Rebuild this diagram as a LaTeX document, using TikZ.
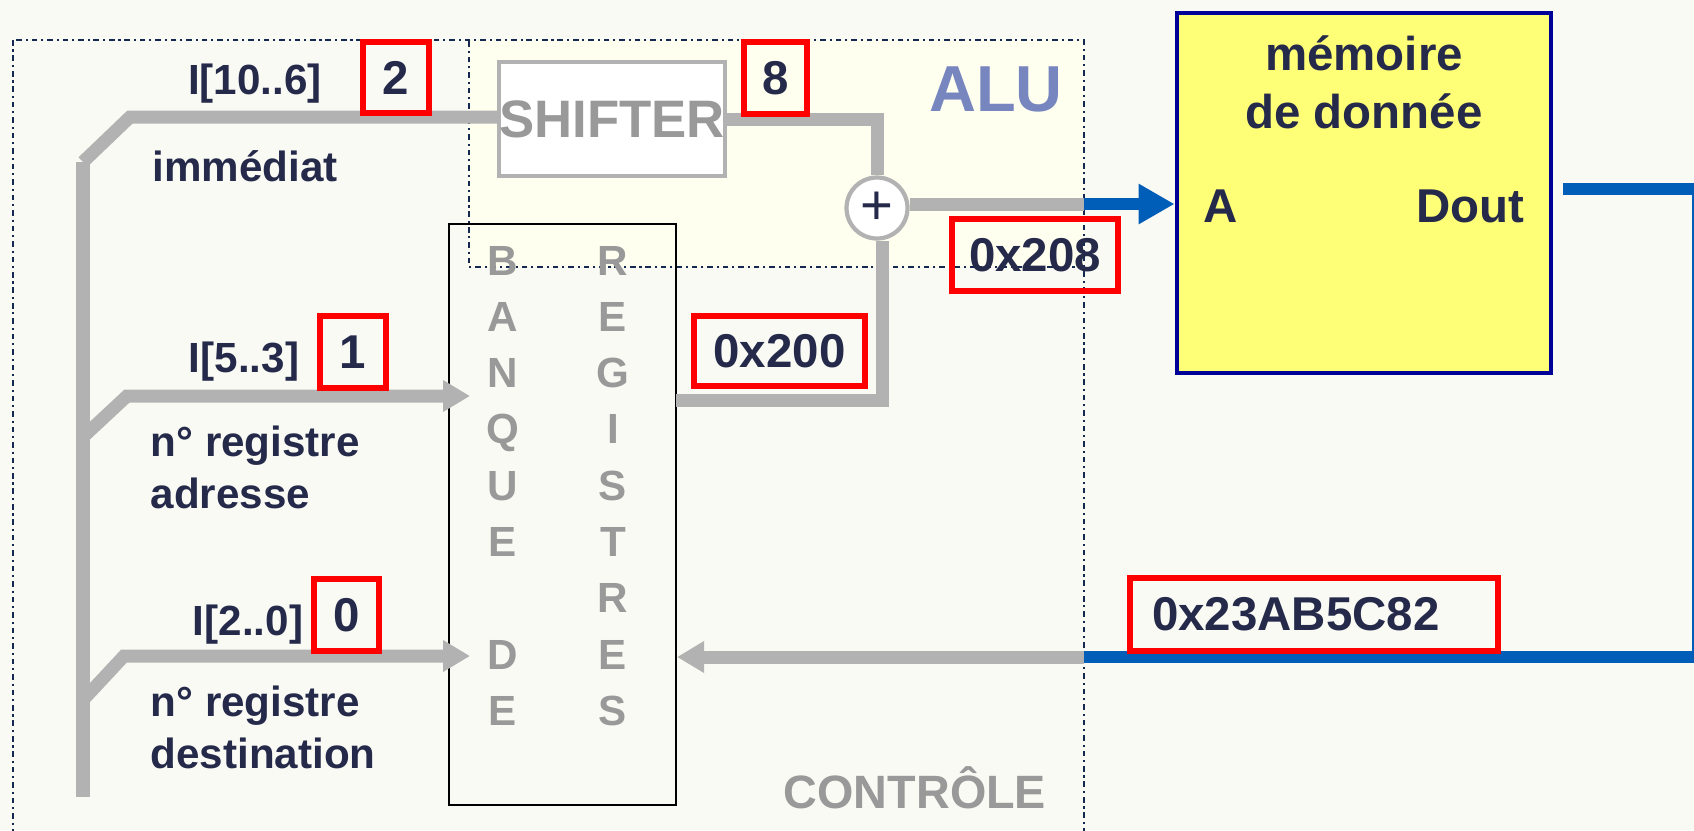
\documentclass[tikz,border=0pt]{standalone}
\usepackage{fontspec}
\setmainfont{Liberation Sans}
\usepackage{xcolor}
\usepackage{tikz}
\usetikzlibrary{arrows.meta, positioning}
\definecolor{pagebg}{RGB}{250,250,244}
\definecolor{alubg}{RGB}{255,255,240}
\definecolor{wiregray}{RGB}{178,178,178}
\definecolor{lettergray}{RGB}{153,153,153}
\definecolor{txtnavy}{RGB}{37,42,74}
\definecolor{alublue}{RGB}{120,134,192}
\definecolor{memyellow}{RGB}{255,255,119}
\definecolor{memborder}{RGB}{0,0,153}
\definecolor{busblue}{RGB}{0,94,184}
\definecolor{zonenavy}{RGB}{20,40,80}

\begin{document}
\begin{tikzpicture}[x=0.1mm, y=-0.1mm,
  wire/.style={line width=3.7pt, draw=wiregray},
  bwire/.style={line width=3.4pt, draw=busblue},
  gtip/.style={-{Triangle[length=2.7mm, width=3mm]}},
  btip/.style={-{Triangle[length=3.6mm, width=3.8mm]}},
  zone/.style={draw=zonenavy, line width=0.6pt, dash pattern=on 1.6pt off 1.1pt on 0.6pt off 1.1pt},
  val/.style={rectangle, draw=red, line width=1.9pt, inner sep=0pt, text=txtnavy, font=\fontsize{13.5}{16}\selectfont\bfseries},
  lbl/.style={inner sep=0pt, text=txtnavy, font=\fontsize{12}{14.8}\selectfont\bfseries},
  memtxt/.style={inner sep=0pt, text=txtnavy, font=\fontsize{13.5}{16.5}\selectfont\bfseries},
  ltr/.style={inner sep=0pt, anchor=base, text=lettergray, font=\fontsize{12}{14}\selectfont\bfseries},
  title/.style={inner sep=0pt, anchor=base, font=\bfseries}
]
\useasboundingbox[fill=pagebg] (0,0) rectangle (1694,830);

% zones
\fill[alubg] (469,40) rectangle (1084,267);
\draw[zone] (13,40) rectangle (1084,860);
\draw[zone] (1084,267) -- (469,267) -- (469,40);
\node[title, text=alublue, font=\fontsize{18.5}{20}\selectfont\bfseries] (alu) at (996,111) {ALU};
\node[title, text=lettergray, font=\fontsize{13.3}{15}\selectfont\bfseries] (ctrl) at (915,808) {CONTRÔLE};

% blocks
\node[rectangle, draw=wiregray, line width=1.2pt, fill=white, inner sep=0pt,
      minimum width=22.2mm, minimum height=11.4mm, text=lettergray,
      font=\fontsize{15}{15}\selectfont\bfseries] (shifter) at (612,119) {SHIFTER};
\node[rectangle, draw=black, line width=0.6pt, minimum width=22.7mm, minimum height=58.1mm] (bank) at (562.5,514.5) {};
\foreach \c [count=\i from 0] in {B,A,N,Q,U,E,{},D,E}
  \node[ltr] (bq\i) at (503,{275+56.3*\i}) {\c};
\foreach \c [count=\i from 0] in {R,E,G,I,S,T,R,E,S}
  \node[ltr] (rg\i) at (613,{275+56.3*\i}) {\c};
\node[circle, draw=wiregray, line width=1.2pt, fill=white, minimum size=6.1mm, inner sep=0pt,
      text=txtnavy, font=\fontsize{16}{16}\selectfont] (adder) at (877,208) {+};
\node[rectangle, draw=memborder, line width=1.4pt, fill=memyellow,
      minimum width=37.4mm, minimum height=36mm] (mem) at (1364,193) {};
\node[memtxt, align=center] (memname) at (1364,82) {mémoire\\de donnée};
\node[memtxt, anchor=base] (pinA) at (1221,222) {A};
\node[memtxt, anchor=base] (pinD) at (1470,222) {Dout};

% instruction fields
\coordinate (busbot) at (83,797);
\coordinate (b1) at (83,162);
\coordinate (k1) at (130,117);
\coordinate (b2) at (83,437);
\coordinate (k2) at (127,396);
\coordinate (inA) at (470,396);
\coordinate (b3) at (83,700);
\coordinate (k3) at (124,656);
\coordinate (inD) at (470,656);
\draw[wire] (busbot) -- (b1);
\draw[wire] (b1) -- (k1) -- (k1 -| shifter.west);
\draw[wire, gtip] (b2) -- (k2) -- (inA);
\draw[wire, gtip] (b3) -- (k3) -- (inD);

% alu
\coordinate (regout) at (676,400);
\coordinate (aluR) at (1084,204);
\draw[wire] (shifter.east) -| (adder.north);
\draw[wire] (regout) -| ([xshift=0.5mm]adder.south);
\draw[wire] (aluR -| adder.east) -- (aluR);
\draw[bwire, btip] (aluR) -- (aluR -| mem.west);

% write back
\coordinate (doutR) at (1563,189);
\coordinate (edgeT) at (1698,189);
\coordinate (edgeB) at (1698,657);
\coordinate (ctrlR) at (1084,657);
\draw[bwire] (doutR) -- (edgeT) -- (edgeB) -- (ctrlR);
\draw[wire, gtip] (ctrlR) -- (ctrlR -| bank.east);

% labels
\node[lbl] (f1) at (255,84) {I[10..6]};
\node[lbl, anchor=west] (imm) at (152,166) {immédiat};
\node[lbl] (f2) at (244,362) {I[5..3]};
\node[lbl, anchor=west, align=left] (radr) at (150,467) {n° registre\\adresse};
\node[lbl] (f3) at (248,625) {I[2..0]};
\node[lbl, anchor=west, align=left] (rdst) at (150,727) {n° registre\\destination};

% values
\node[val, minimum width=6.6mm, minimum height=7.1mm] (v2) at (396,77.5) {2};
\node[val, minimum width=6.3mm, minimum height=7.2mm] (v8) at (775.5,78) {8};
\node[val, minimum width=6.6mm, minimum height=7.2mm] (v1) at (353,352) {1};
\node[val, minimum width=6.5mm, minimum height=7.2mm] (v0) at (346.5,615) {0};
\node[val, minimum width=17.1mm, minimum height=7mm] (v200) at (779.5,351) {0x200};
\node[val, minimum width=16.6mm, minimum height=7.2mm] (v208) at (1035,255) {0x208};
\node[val, text width=32.4mm, align=left, inner xsep=2.2mm, minimum height=7.3mm] (vdata) at (1314,614.5) {0x23AB5C82};
\end{tikzpicture}
\end{document}
